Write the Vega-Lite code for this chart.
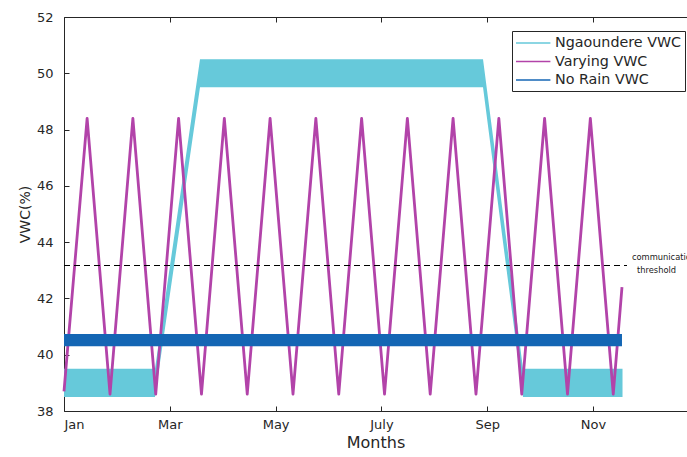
{
  "$schema": "https://vega.github.io/schema/vega-lite/v6.json",
  "width": 623,
  "height": 394,
  "autosize": {"type": "none"},
  "padding": {"left": 64, "top": 17, "right": 0, "bottom": 46},
  "background": "white",
  "config": {
    "font": "DejaVu Sans",
    "view": {"stroke": null},
    "axis": {
      "grid": false,
      "domainColor": "#262626",
      "tickColor": "#262626",
      "labelColor": "#262626",
      "titleColor": "#262626",
      "labelFont": "DejaVu Sans",
      "titleFont": "DejaVu Sans",
      "titleFontWeight": "normal",
      "labelFontSize": 13,
      "titleFontSize": 16,
      "tickSize": -5,
      "domainWidth": 1,
      "tickWidth": 1
    },
    "legend": {
      "orient": "none",
      "legendX": 448,
      "legendY": 14,
      "strokeColor": "#262626",
      "fillColor": "white",
      "padding": 3,
      "symbolType": "M-1,0H3.3",
      "symbolSize": 256,
      "symbolStrokeWidth": 1.5,
      "labelFont": "DejaVu Sans",
      "labelFontSize": 14.3,
      "labelColor": "#262626",
      "labelOffset": 22,
      "rowPadding": 1.5
    }
  },
  "datasets": {
    "ngaoundere": [
      {"m": 0, "lo": 38.5, "hi": 39.5, "series": "Ngaoundere VWC"},
      {"m": 1.72, "lo": 38.5, "hi": 39.5, "series": "Ngaoundere VWC"},
      {"m": 2.571, "lo": 49.5, "hi": 50.5, "series": "Ngaoundere VWC"},
      {"m": 7.921, "lo": 49.5, "hi": 50.5, "series": "Ngaoundere VWC"},
      {"m": 8.677, "lo": 38.5, "hi": 39.5, "series": "Ngaoundere VWC"},
      {"m": 10.558, "lo": 38.5, "hi": 39.5, "series": "Ngaoundere VWC"}
    ],
    "varying": [
      {"m": 0, "v": 38.7, "series": "Varying VWC"},
      {"m": 0.437, "v": 48.4, "series": "Varying VWC"},
      {"m": 0.87, "v": 38.6, "series": "Varying VWC"},
      {"m": 1.302, "v": 48.4, "series": "Varying VWC"},
      {"m": 1.734, "v": 38.6, "series": "Varying VWC"},
      {"m": 2.166, "v": 48.4, "series": "Varying VWC"},
      {"m": 2.599, "v": 38.6, "series": "Varying VWC"},
      {"m": 3.031, "v": 48.4, "series": "Varying VWC"},
      {"m": 3.464, "v": 38.6, "series": "Varying VWC"},
      {"m": 3.896, "v": 48.4, "series": "Varying VWC"},
      {"m": 4.329, "v": 38.6, "series": "Varying VWC"},
      {"m": 4.761, "v": 48.4, "series": "Varying VWC"},
      {"m": 5.194, "v": 38.6, "series": "Varying VWC"},
      {"m": 5.626, "v": 48.4, "series": "Varying VWC"},
      {"m": 6.059, "v": 38.6, "series": "Varying VWC"},
      {"m": 6.491, "v": 48.4, "series": "Varying VWC"},
      {"m": 6.923, "v": 38.6, "series": "Varying VWC"},
      {"m": 7.355, "v": 48.4, "series": "Varying VWC"},
      {"m": 7.788, "v": 38.6, "series": "Varying VWC"},
      {"m": 8.22, "v": 48.4, "series": "Varying VWC"},
      {"m": 8.653, "v": 38.6, "series": "Varying VWC"},
      {"m": 9.085, "v": 48.4, "series": "Varying VWC"},
      {"m": 9.518, "v": 38.6, "series": "Varying VWC"},
      {"m": 9.95, "v": 48.4, "series": "Varying VWC"},
      {"m": 10.383, "v": 38.6, "series": "Varying VWC"},
      {"m": 10.548, "v": 42.4, "series": "Varying VWC"}
    ],
    "norain": [
      {"m": 0, "lo": 40.3, "hi": 40.74, "series": "No Rain VWC"},
      {"m": 10.548, "lo": 40.3, "hi": 40.74, "series": "No Rain VWC"}
    ],
    "threshold": [
      {"m0": 0, "m1": 10.643, "v": 43.17}
    ],
    "labels": [
      {"m": 10.737, "v": 43.43, "label": "communication"},
      {"m": 10.832, "v": 42.98, "label": "threshold"}
    ]
  },
  "resolve": {"axis": {"x": "independent"}},
  "layer": [
    {
      "data": {"name": "ngaoundere"},
      "mark": {"type": "area", "opacity": 1},
      "encoding": {
        "x": {
          "field": "m",
          "type": "quantitative",
          "scale": {"domain": [0, 11.777], "nice": false, "zero": false},
          "axis": {
            "orient": "bottom",
            "title": "Months",
            "values": [0, 2, 4, 6, 8, 10],
            "labelExpr": "['Jan','Mar','May','July','Sep','Nov'][round(datum.value / 2)]",
            "labelPadding": 12,
            "titlePadding": 3
          }
        },
        "y": {
          "field": "hi",
          "type": "quantitative",
          "scale": {"domain": [38, 52], "nice": false, "zero": false},
          "axis": {
            "title": "VWC(%)",
            "values": [38, 40, 42, 44, 46, 48, 50, 52],
            "labelPadding": 16,
            "titlePadding": 4,
            "titleFontSize": 14
          }
        },
        "y2": {"field": "lo"},
        "fill": {
          "field": "series",
          "type": "nominal",
          "scale": {
            "domain": ["Ngaoundere VWC", "No Rain VWC"],
            "range": ["#66c9da", "#1466b4"]
          },
          "legend": null
        }
      }
    },
    {
      "data": {"name": "varying"},
      "mark": {"type": "line", "strokeWidth": 2.8, "strokeJoin": "round"},
      "encoding": {
        "x": {"field": "m", "type": "quantitative", "axis": null},
        "y": {"field": "v", "type": "quantitative"},
        "color": {
          "field": "series",
          "type": "nominal",
          "scale": {
            "domain": ["Ngaoundere VWC", "Varying VWC", "No Rain VWC"],
            "range": ["#66c9da", "#b243a9", "#1466b4"]
          },
          "legend": {"title": null}
        }
      }
    },
    {
      "data": {"name": "norain"},
      "mark": {"type": "area", "opacity": 1},
      "encoding": {
        "x": {
          "field": "m",
          "type": "quantitative",
          "axis": {
            "orient": "top",
            "title": null,
            "labels": false,
            "values": [0, 2, 4, 6, 8, 10]
          }
        },
        "y": {"field": "hi", "type": "quantitative"},
        "y2": {"field": "lo"},
        "fill": {
          "field": "series",
          "type": "nominal",
          "legend": null
        }
      }
    },
    {
      "data": {"name": "threshold"},
      "mark": {"type": "rule", "color": "#000000", "strokeWidth": 1, "strokeDash": [6, 4]},
      "encoding": {
        "x": {"field": "m0", "type": "quantitative", "axis": null},
        "x2": {"field": "m1"},
        "y": {"field": "v", "type": "quantitative"}
      }
    },
    {
      "data": {"name": "labels"},
      "mark": {"type": "text", "align": "left", "baseline": "middle", "fontSize": 8.3, "color": "#1a1a1a"},
      "encoding": {
        "x": {"field": "m", "type": "quantitative", "axis": null},
        "y": {"field": "v", "type": "quantitative"},
        "text": {"field": "label"}
      }
    }
  ]
}
